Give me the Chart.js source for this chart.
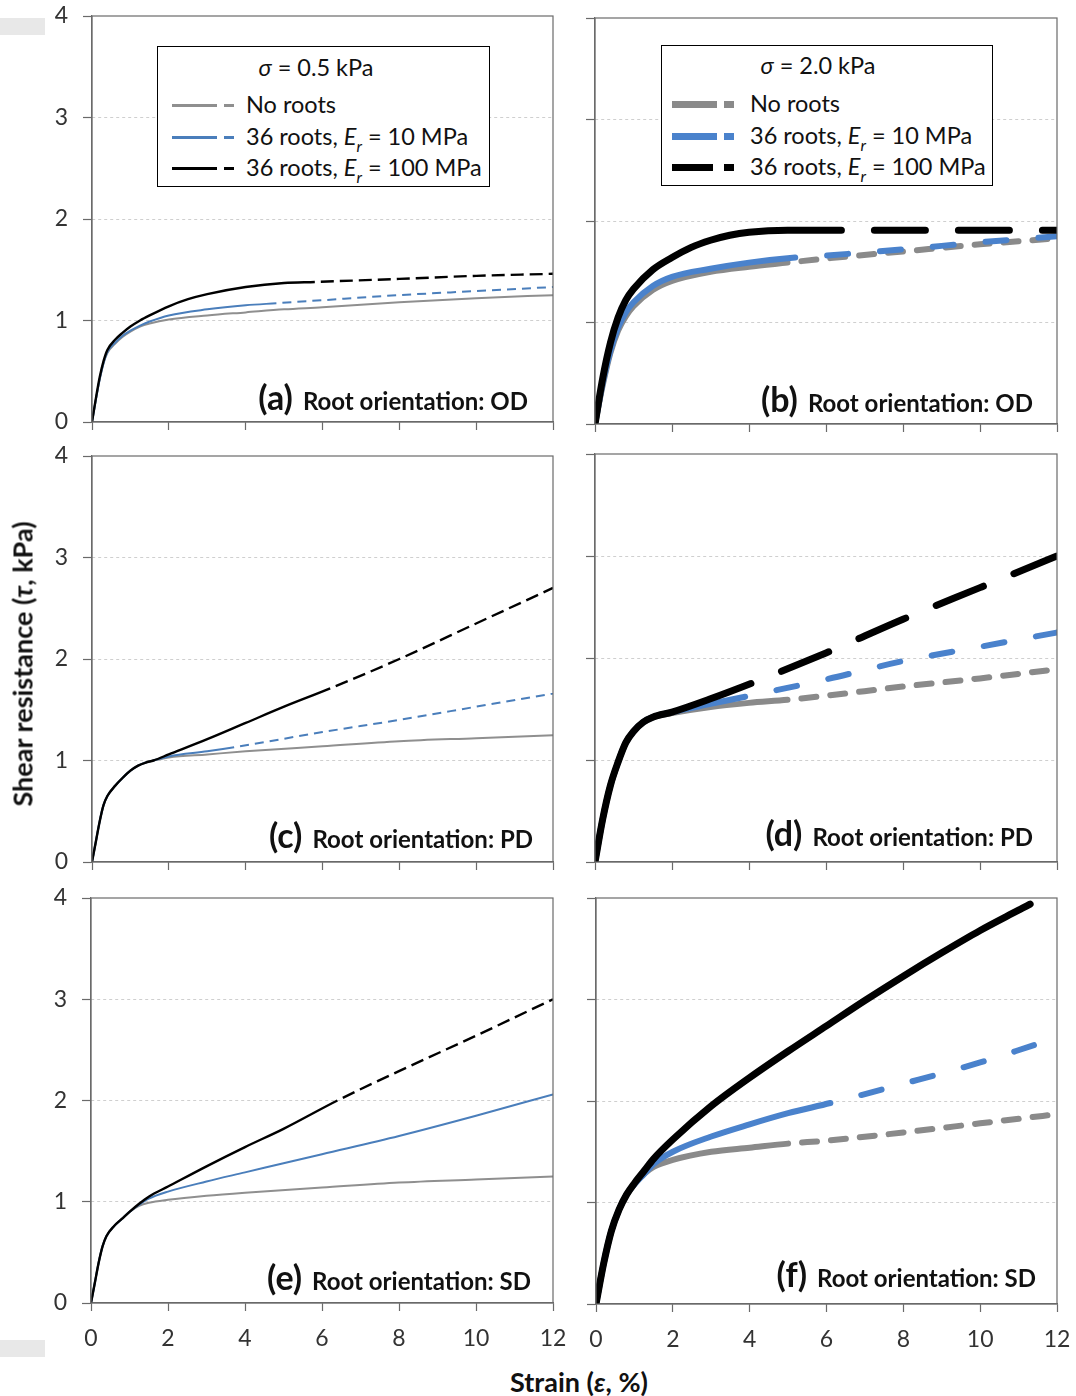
<!DOCTYPE html>
<html>
<head>
<meta charset="utf-8">
<script src="https://cdn.jsdelivr.net/npm/chart.js@4.4.1/dist/chart.umd.min.js"></script>
<style>
html,body{margin:0;padding:0;background:#fff;}
#root{position:relative;width:1076px;height:1396px;overflow:hidden;font-family:Lato,sans-serif;color:#111;}
canvas{position:absolute;}
.abs{position:absolute;white-space:nowrap;}
.legend{position:absolute;border:1.5px solid #000;background:#fff;box-sizing:border-box;}
.lrow{position:absolute;font-size:23.5px;height:30px;line-height:30px;white-space:nowrap;}
.ltitle{position:absolute;font-size:23.5px;height:30px;line-height:30px;transform:translateX(-50%);white-space:nowrap;}
.seg{position:absolute;}
.plabel{position:absolute;height:40px;line-height:40px;text-align:right;font-weight:bold;white-space:nowrap;}
.plabel .p{font-size:34px;}
.plabel .o{font-size:24px;margin-left:10px;}
sub{font-style:italic;font-size:16px;vertical-align:-7px;line-height:0;}
</style>
</head>
<body>
<div id="root"></div>
<script>
// ---------------- DATA ----------------
const X_TICKS = [0, 2, 4, 6, 8, 10, 12];
const Y_TICKS = [0, 1, 2, 3, 4];
const PANEL_LETTERS = ['a', 'b', 'c', 'd', 'e', 'f'];
const ORIENTATIONS = ['OD', 'OD', 'PD', 'PD', 'SD', 'SD'];
const SIGMAS = ['0.5', '2.0'];
const SERIES = ['No roots', '36 roots, E_r = 10 MPa', '36 roots, E_r = 100 MPa'];

// (a) sigma = 0.5 kPa, OD
const aNoneX = [0,0.1,0.2,0.3,0.4,0.6,0.8,1,1.25,1.5,2,3,4,5,6,8,10,12];
const aNoneY = [0,0.22,0.42,0.58,0.68,0.77,0.84,0.89,0.94,0.97,1.01,1.05,1.08,1.11,1.13,1.18,1.22,1.25];
const aE10X  = [0,0.1,0.2,0.3,0.4,0.6,0.8,1,1.25,1.5,2,3,4,4.8,6,8,10,12];
const aE10Y  = [0,0.22,0.42,0.58,0.69,0.78,0.85,0.9,0.95,0.99,1.05,1.11,1.15,1.17,1.2,1.25,1.29,1.33];
const aE100X = [0,0.1,0.2,0.3,0.4,0.6,0.8,1,1.25,1.5,2,2.5,3,4,5,5.8,8,10,12];
const aE100Y = [0,0.23,0.44,0.6,0.71,0.81,0.88,0.94,1.0,1.05,1.14,1.21,1.26,1.33,1.37,1.38,1.41,1.44,1.46];
const aSolidEnd = [12, 4.8, 5.8];

// (b) sigma = 2.0 kPa, OD
const bNoneX = [0,0.2,0.4,0.6,0.8,1,1.5,2,3,4,5,6,8,10,12];
const bNoneY = [0,0.38,0.7,0.92,1.06,1.16,1.32,1.41,1.5,1.55,1.59,1.63,1.7,1.77,1.83];
const bE10X  = [0,0.2,0.4,0.6,0.8,1,1.5,2,3,4,5.2,6,8,10,12];
const bE10Y  = [0,0.4,0.72,0.95,1.1,1.2,1.36,1.45,1.53,1.59,1.64,1.66,1.72,1.79,1.85];
const bE100X = [0,0.2,0.4,0.6,0.8,1,1.5,2,2.5,3,3.5,4,5,6.4,12];
const bE100Y = [0,0.45,0.8,1.05,1.22,1.33,1.52,1.64,1.74,1.81,1.86,1.89,1.91,1.91,1.91];
const bSolidEnd = [5, 5.2, 6.4];

// (c) sigma = 0.5 kPa, PD
const cNoneX = [0,0.1,0.2,0.3,0.4,0.6,0.8,1,1.2,1.4,1.6,2,3,4,6,8,10,12];
const cNoneY = [0,0.2,0.4,0.56,0.65,0.75,0.83,0.9,0.95,0.98,1.0,1.03,1.06,1.09,1.14,1.19,1.22,1.25];
const cE10X  = [0,0.1,0.2,0.3,0.4,0.6,0.8,1,1.2,1.4,1.6,2,3,3.7,6,8,10,12];
const cE10Y  = [0,0.2,0.4,0.56,0.65,0.75,0.83,0.9,0.95,0.98,1.0,1.04,1.09,1.13,1.28,1.40,1.53,1.66];
const cE100X = [0,0.1,0.2,0.3,0.4,0.6,0.8,1,1.2,1.4,1.6,2,3,4,5,6.2,8,10,12];
const cE100Y = [0,0.2,0.4,0.56,0.65,0.75,0.83,0.9,0.95,0.98,1.0,1.06,1.21,1.37,1.53,1.71,2.0,2.35,2.70];
const cSolidEnd = [12, 3.7, 6.2];

// (d) sigma = 2.0 kPa, PD
const dNoneX = [0,0.2,0.4,0.6,0.8,1,1.25,1.5,2,3,4,5,6,8,10,12];
const dNoneY = [0,0.42,0.75,0.98,1.17,1.28,1.37,1.42,1.46,1.52,1.56,1.59,1.63,1.72,1.80,1.89];
const dE10X  = [0,0.2,0.4,0.6,0.8,1,1.25,1.5,2,3,3.9,6,8,10,12];
const dE10Y  = [0,0.42,0.75,0.98,1.17,1.28,1.37,1.42,1.47,1.55,1.62,1.79,1.97,2.11,2.25];
const dE100X = [0,0.2,0.4,0.6,0.8,1,1.25,1.5,2,3,4.05,6,8,10,12];
const dE100Y = [0,0.42,0.75,0.98,1.17,1.28,1.37,1.42,1.47,1.6,1.75,2.05,2.38,2.69,3.0];
const dSolidEnd = [5, 3.9, 4.05];

// (e) sigma = 0.5 kPa, SD
const eNoneX = [0,0.1,0.2,0.3,0.4,0.6,0.8,1,1.25,1.5,2,3,4,6,8,10,12];
const eNoneY = [0,0.2,0.4,0.56,0.66,0.76,0.83,0.9,0.96,0.99,1.02,1.06,1.09,1.14,1.19,1.22,1.25];
const eE10X  = [0,0.1,0.2,0.3,0.4,0.6,0.8,1,1.25,1.5,2,3,4,5,6,8,10,12];
const eE10Y  = [0,0.2,0.4,0.56,0.66,0.76,0.83,0.9,0.97,1.03,1.1,1.2,1.29,1.38,1.47,1.65,1.85,2.06];
const eE100X = [0,0.1,0.2,0.3,0.4,0.6,0.8,1,1.25,1.5,2,3,4,5,6.4,8,10,12];
const eE100Y = [0,0.2,0.4,0.56,0.66,0.76,0.83,0.9,0.98,1.05,1.15,1.35,1.54,1.72,2.0,2.29,2.64,3.0];
const eSolidEnd = [12, 12, 6.4];

// (f) sigma = 2.0 kPa, SD
const fNoneX = [0,0.2,0.4,0.6,0.8,1,1.25,1.5,2,3,4,5,6,8,10,12];
const fNoneY = [0,0.4,0.72,0.93,1.08,1.18,1.28,1.35,1.42,1.5,1.54,1.58,1.61,1.69,1.78,1.87];
const fE10X  = [0,0.2,0.4,0.6,0.8,1,1.25,1.5,2,3,4,5,6.1,8,10,11.4];
const fE10Y  = [0,0.4,0.72,0.93,1.08,1.18,1.28,1.38,1.5,1.65,1.77,1.88,1.98,2.17,2.38,2.55];
const fE100X = [0,0.2,0.4,0.6,0.8,1,1.25,1.5,2,3,4,5,6,7,8,9,10,11,11.3,12];
const fE100Y = [0,0.4,0.72,0.93,1.08,1.19,1.31,1.43,1.62,1.95,2.23,2.49,2.74,2.99,3.23,3.46,3.68,3.88,3.94,4.1];
const fSolidEnd = [5, 6.1, 11.3];

// ---------------- LAYOUT / STYLE ----------------
const PANEL_DATA = [
  {xs:[aNoneX,aE10X,aE100X], ys:[aNoneY,aE10Y,aE100Y], ends:aSolidEnd},
  {xs:[bNoneX,bE10X,bE100X], ys:[bNoneY,bE10Y,bE100Y], ends:bSolidEnd},
  {xs:[cNoneX,cE10X,cE100X], ys:[cNoneY,cE10Y,cE100Y], ends:cSolidEnd},
  {xs:[dNoneX,dE10X,dE100X], ys:[dNoneY,dE10Y,dE100Y], ends:dSolidEnd},
  {xs:[eNoneX,eE10X,eE100X], ys:[eNoneY,eE10Y,eE100Y], ends:eSolidEnd},
  {xs:[fNoneX,fE10X,fE100X], ys:[fNoneY,fE10Y,fE100Y], ends:fSolidEnd},
];
const GEOM = [
  {l:92, t:16, r:553, b:422},
  {l:595,t:18, r:1057,b:424},
  {l:92, t:456,r:553, b:862},
  {l:595,t:454,r:1057,b:862},
  {l:91, t:898,r:553, b:1303},
  {l:596,t:898,r:1057,b:1304},
];
const LABEL_POS = [
  {right:528, cy:397}, {right:1033, cy:399},
  {right:533, cy:835}, {right:1033, cy:833},
  {right:531, cy:1277},{right:1036, cy:1274},
];
const THIN = [
  {color:'#8f8f8f', width:2,   dash:[10,6]},
  {color:'#4a7ebb', width:2,   dash:[9,6]},
  {color:'#000000', width:2.4, dash:[13,6]},
];
const THICK = [
  {color:'#8a8a8a', width:6, dash:[15,14]},
  {color:'#4a82cc', width:6, dash:[21,32]},
  {color:'#000000', width:7, dash:[51,33]},
];
const AX = '#6a6a6a';
const YW = 70, PT = 14, PR = 22;

const root = document.getElementById('root');

const framePlugin = {
  id: 'frame',
  afterDraw(chart) {
    const {ctx, chartArea: {left, top, right, bottom}} = chart;
    ctx.save();
    ctx.strokeStyle = AX;
    ctx.lineWidth = 1.2;
    ctx.strokeRect(left, top, right - left, bottom - top);
    ctx.restore();
  }
};

PANEL_DATA.forEach((pd, i) => {
  const g = GEOM[i];
  const isLeft = i % 2 === 0;
  const isBottom = i >= 4;
  const XH = isBottom ? 56 : 14;
  const cv = document.createElement('canvas');
  const W = (g.r - g.l) + YW + PR, H = (g.b - g.t) + PT + XH;
  cv.width = W; cv.height = H;
  cv.style.left = (g.l - YW) + 'px';
  cv.style.top = (g.t - PT) + 'px';
  cv.style.width = W + 'px'; cv.style.height = H + 'px';
  root.appendChild(cv);
  const styles = isLeft ? THIN : THICK;
  const datasets = [2, 1, 0].map(k => {
    const st = styles[k];
    const brk = pd.ends[k];
    return {
      label: SERIES[k],
      data: pd.xs[k].map((x, j) => ({x: x, y: pd.ys[k][j]})),
      borderColor: st.color,
      borderWidth: st.width,
      pointRadius: 0,
      fill: false,
      cubicInterpolationMode: 'monotone',
      borderCapStyle: isLeft ? 'butt' : 'round',
      borderJoinStyle: 'round',
      segment: {
        borderDash: c => (c.p0.parsed.x >= brk - 1e-9) ? st.dash : undefined,
        borderDashOffset: c => (c.p0.parsed.x >= brk - 1e-9) ? st.dash[0] : undefined
      }
    };
  });
  new Chart(cv, {
    type: 'line',
    data: {datasets},
    plugins: [framePlugin],
    options: {
      responsive: false,
      animation: false,
      devicePixelRatio: 1,
      events: [],
      layout: {padding: {top: PT, right: PR, left: 0, bottom: 0}},
      plugins: {legend: {display: false}, tooltip: {enabled: false}},
      scales: {
        x: {
          type: 'linear', min: 0, max: 12,
          afterBuildTicks: s => { s.ticks = X_TICKS.map(v => ({value: v})); },
          afterFit: s => { s.height = XH; s.paddingLeft = 0; s.paddingRight = 0; },
          grid: {drawOnChartArea: false, drawTicks: true, tickLength: 8, tickColor: AX, tickWidth: 1.2},
          border: {display: true, color: AX, width: 1.2},
          ticks: {display: isBottom, padding: 14, autoSkip: false, maxRotation: 0,
                  color: '#333', font: {family: 'Lato', size: 23}}
        },
        y: {
          type: 'linear', min: 0, max: 4,
          afterBuildTicks: s => { s.ticks = Y_TICKS.map(v => ({value: v})); },
          afterFit: s => { s.width = YW; s.paddingTop = 0; s.paddingBottom = 0; },
          grid: {
            drawOnChartArea: true, drawTicks: true, tickLength: 9, tickColor: AX, tickWidth: 1.2,
            color: c => (c.tick && (c.tick.value === 0 || c.tick.value === 4)) ? 'rgba(0,0,0,0)' : '#cfcfcf',
            lineWidth: 1
          },
          border: {display: true, color: AX, width: 1.2, dash: [3, 3]},
          ticks: {display: isLeft, padding: 15, color: '#333', font: {family: 'Lato', size: 23}}
        }
      }
    }
  });

  // panel label
  const lp = LABEL_POS[i];
  const lab = document.createElement('div');
  lab.className = 'plabel';
  lab.style.right = (1076 - lp.right) + 'px';
  lab.style.top = (lp.cy - 20) + 'px';
  lab.innerHTML = '<span class="p">(' + PANEL_LETTERS[i] + ')</span><span class="o">Root orientation: ' + ORIENTATIONS[i] + '</span>';
  root.appendChild(lab);
});

// legends
function seriesHTML(name) {
  return name.replace('E_r', '<i>E</i><sub>r</sub>');
}
const LEGENDS = [
  {box:{l:157,t:46,w:333,h:141}, titleX:316, titleY:67, rows:[105,137,168], solid:[172,217], dash:[224,234], blackSolidEnd:217, textX:246, lw:3, styles:THIN, sigma:SIGMAS[0]},
  {box:{l:661,t:45,w:332,h:141}, titleX:818, titleY:65, rows:[104,136,167], solid:[672,717], dash:[724,734], blackSolidEnd:713, textX:750, lw:7, styles:THICK, sigma:SIGMAS[1]},
];
LEGENDS.forEach(L => {
  const b = document.createElement('div');
  b.className = 'legend';
  Object.assign(b.style, {left: L.box.l + 'px', top: L.box.t + 'px', width: L.box.w + 'px', height: L.box.h + 'px'});
  root.appendChild(b);
  const t = document.createElement('div');
  t.className = 'ltitle';
  t.style.left = L.titleX + 'px'; t.style.top = (L.titleY - 15) + 'px';
  t.innerHTML = '<i>σ</i> = ' + L.sigma + ' kPa';
  root.appendChild(t);
  SERIES.forEach((name, k) => {
    const cy = L.rows[k];
    const st = L.styles[k];
    const sEnd = k === 2 ? L.blackSolidEnd : L.solid[1];
    const s1 = document.createElement('div');
    s1.className = 'seg';
    Object.assign(s1.style, {left: L.solid[0] + 'px', top: (cy - L.lw / 2) + 'px', width: (sEnd - L.solid[0]) + 'px', height: L.lw + 'px', background: st.color});
    root.appendChild(s1);
    const s2 = document.createElement('div');
    s2.className = 'seg';
    Object.assign(s2.style, {left: L.dash[0] + 'px', top: (cy - L.lw / 2) + 'px', width: (L.dash[1] - L.dash[0]) + 'px', height: L.lw + 'px', background: st.color});
    root.appendChild(s2);
    const r = document.createElement('div');
    r.className = 'lrow';
    r.style.left = L.textX + 'px'; r.style.top = (cy - 16) + 'px';
    r.innerHTML = seriesHTML(name);
    root.appendChild(r);
  });
});

// axis titles
const yt = document.createElement('div');
yt.className = 'abs';
Object.assign(yt.style, {left: '22px', top: '664px', fontSize: '27px', fontWeight: 'bold', transform: 'translate(-50%,-50%) rotate(-90deg)', color: '#111'});
yt.innerHTML = 'Shear resistance (<i>τ</i>, kPa)';
root.appendChild(yt);
const xt = document.createElement('div');
xt.className = 'abs';
Object.assign(xt.style, {left: '579px', top: '1381px', fontSize: '27px', fontWeight: 'bold', transform: 'translate(-50%,-50%)', color: '#111'});
xt.innerHTML = 'Strain (<i>ε</i>, %)';
root.appendChild(xt);

// page-edge grey strips seen in the source figure
[[0,18,45,17],[0,1340,45,17]].forEach(([x,y,w,h]) => {
  const d = document.createElement('div');
  d.className = 'abs';
  Object.assign(d.style, {left: x + 'px', top: y + 'px', width: w + 'px', height: h + 'px', background: '#e8e8e8'});
  root.appendChild(d);
});
</script>
</body>
</html>
